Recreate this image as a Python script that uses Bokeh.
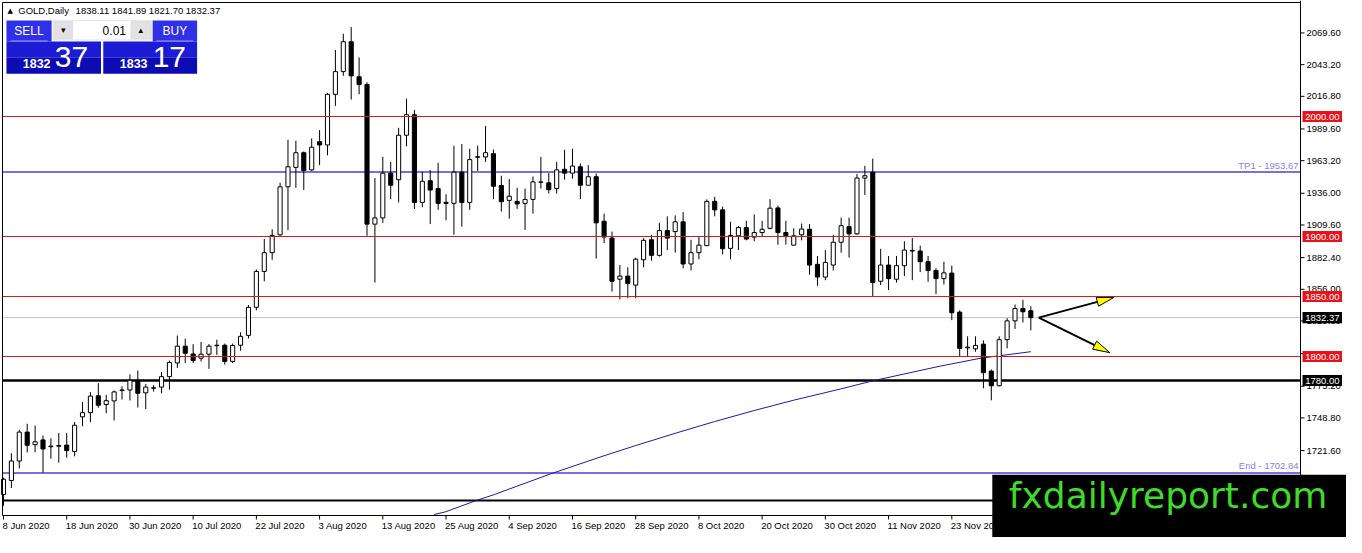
from bokeh.plotting import figure
from bokeh.models import Label, BoxAnnotation, ColumnDataSource, Range1d
from bokeh.embed import file_html
from bokeh.resources import INLINE
from bokeh.core.properties import value

# ---------------- data ----------------
opens = [1685.0, 1696.7, 1712.9, 1737.0, 1726.5, 1730.5, 1725.3, 1725.2, 1726.2, 1720.8,
         1749.7, 1753.2, 1767.3, 1760.0, 1763.0, 1771.6, 1772.1, 1780.2, 1769.7, 1773.5,
         1774.5, 1783.2, 1794.6, 1808.6, 1802.1, 1798.6, 1801.9, 1809.0, 1809.4, 1795.9,
         1809.4, 1817.6, 1841.0, 1870.9, 1886.5, 1901.4, 1941.4, 1957.6, 1969.8, 1955.5,
         1979.0, 1976.3, 2018.5, 2037.4, 2062.3, 2033.1, 2026.6, 1910.3, 1915.5, 1952.8,
         1947.3, 1984.4, 2001.5, 1928.4, 1946.5, 1940.0, 1928.5, 1927.6, 1953.6, 1928.4,
         1966.0, 1966.3, 1969.0, 1942.5, 1930.1, 1929.3, 1927.6, 1930.9, 1945.2, 1944.7,
         1940.0, 1956.0, 1952.8, 1958.1, 1942.7, 1949.8, 1912.7, 1898.7, 1864.4, 1867.0,
         1859.5, 1880.6, 1897.3, 1884.3, 1904.9, 1904.1, 1912.2, 1877.1, 1886.5, 1892.4,
         1929.3, 1922.2, 1890.1, 1900.6, 1907.4, 1899.5, 1903.3, 1906.8, 1923.8, 1903.3,
         1892.8, 1901.4, 1906.0, 1876.8, 1866.2, 1876.2, 1895.2, 1908.2, 1902.2, 1948.7,
         1953.6, 1862.7, 1876.2, 1864.4, 1875.7, 1887.9, 1887.9, 1879.0, 1871.7, 1864.9,
         1869.5, 1837.0, 1807.2, 1806.4, 1810.3, 1787.8, 1775.6, 1814.0, 1829.7, 1840.0,
         1838.11]
highs = [1699.0, 1719.4, 1738.9, 1744.0, 1742.4, 1734.2, 1731.8, 1736.2, 1736.2, 1745.4,
         1762.1, 1770.3, 1777.8, 1768.0, 1771.6, 1775.1, 1785.1, 1788.3, 1777.2, 1776.2,
         1787.0, 1796.7, 1817.5, 1814.9, 1810.3, 1812.1, 1810.3, 1814.0, 1810.8, 1810.8,
         1820.2, 1843.0, 1872.5, 1897.9, 1906.0, 1944.7, 1980.6, 1979.8, 1970.9, 1981.7,
         1988.7, 2019.5, 2055.5, 2069.0, 2074.5, 2049.3, 2028.5, 1948.7, 1966.3, 1962.2,
         1990.6, 2014.9, 2005.5, 1954.0, 1955.5, 1961.4, 1935.2, 1975.7, 1977.1, 1973.1,
         1975.7, 1992.0, 1972.5, 1950.6, 1947.9, 1940.6, 1940.0, 1950.0, 1966.3, 1952.8,
         1962.2, 1972.3, 1973.1, 1960.9, 1959.5, 1952.5, 1919.0, 1904.1, 1876.2, 1874.3,
         1882.4, 1898.7, 1901.4, 1911.4, 1916.8, 1917.6, 1920.3, 1897.3, 1900.0, 1930.9,
         1933.0, 1924.9, 1912.2, 1908.7, 1913.0, 1918.4, 1913.0, 1931.1, 1925.7, 1913.0,
         1906.8, 1910.8, 1910.3, 1883.8, 1888.7, 1901.4, 1915.7, 1915.7, 1952.0, 1958.9,
         1964.9, 1889.7, 1883.8, 1883.8, 1896.0, 1898.7, 1892.4, 1883.8, 1873.5, 1879.0,
         1875.7, 1838.4, 1816.8, 1816.8, 1813.5, 1789.2, 1816.8, 1831.9, 1843.3, 1847.3,
         1841.89]
lows = [1675.6, 1690.4, 1706.7, 1720.0, 1720.2, 1703.2, 1714.8, 1711.5, 1715.6, 1716.8,
        1741.9, 1745.3, 1757.3, 1752.7, 1746.7, 1764.2, 1763.4, 1757.5, 1756.2, 1770.8,
        1769.4, 1772.4, 1790.5, 1794.6, 1794.6, 1795.9, 1789.7, 1801.3, 1793.2, 1794.6,
        1804.8, 1815.0, 1838.5, 1862.7, 1880.6, 1900.6, 1905.4, 1940.6, 1938.7, 1954.7,
        1959.5, 1967.6, 2008.8, 2033.9, 2014.1, 2018.5, 1900.6, 1861.6, 1911.4, 1931.1,
        1928.4, 1975.2, 1923.0, 1924.4, 1910.3, 1922.2, 1913.5, 1901.4, 1908.2, 1922.2,
        1954.7, 1962.2, 1931.1, 1920.8, 1914.9, 1923.0, 1905.4, 1919.0, 1940.0, 1935.8,
        1935.8, 1947.3, 1948.1, 1931.1, 1942.7, 1881.6, 1894.6, 1854.1, 1847.6, 1848.6,
        1848.6, 1874.3, 1879.8, 1883.3, 1888.7, 1886.5, 1873.5, 1871.7, 1881.0, 1892.0,
        1916.8, 1885.1, 1881.0, 1888.7, 1896.8, 1896.0, 1899.5, 1906.0, 1893.2, 1893.2,
        1892.4, 1896.8, 1868.1, 1858.9, 1863.6, 1871.7, 1886.5, 1882.4, 1901.4, 1934.6,
        1850.0, 1859.5, 1855.4, 1861.6, 1867.0, 1863.6, 1870.3, 1862.2, 1851.9, 1860.0,
        1830.3, 1800.0, 1800.5, 1804.0, 1773.5, 1763.5, 1775.1, 1806.8, 1823.0, 1828.3,
        1821.70]
closes = [1697.7, 1712.9, 1737.0, 1726.0, 1728.9, 1722.9, 1724.8, 1725.8, 1721.6, 1742.7,
          1753.2, 1767.0, 1759.4, 1763.2, 1770.5, 1772.1, 1780.2, 1769.4, 1774.5, 1774.0,
          1783.2, 1795.1, 1808.6, 1802.7, 1796.7, 1801.9, 1808.6, 1809.4, 1795.9, 1809.2,
          1816.8, 1841.0, 1870.9, 1886.5, 1900.9, 1941.4, 1958.1, 1969.8, 1954.9, 1974.4,
          1976.3, 2018.5, 2037.4, 2062.3, 2033.9, 2026.6, 1910.3, 1915.5, 1952.8, 1942.7,
          1984.4, 2001.5, 1928.4, 1946.0, 1938.7, 1927.6, 1927.6, 1953.6, 1928.4, 1964.1,
          1966.5, 1969.8, 1941.9, 1929.0, 1933.6, 1927.1, 1930.9, 1945.5, 1945.5, 1939.0,
          1955.5, 1952.8, 1958.7, 1942.7, 1949.8, 1911.4, 1899.5, 1862.7, 1867.0, 1860.8,
          1881.1, 1896.8, 1884.3, 1904.9, 1898.7, 1912.2, 1877.1, 1886.5, 1892.8, 1929.3,
          1922.2, 1889.8, 1900.9, 1907.4, 1897.9, 1903.3, 1906.0, 1923.6, 1903.3, 1900.6,
          1900.6, 1906.2, 1876.2, 1866.2, 1878.4, 1895.2, 1909.0, 1902.2, 1948.7, 1950.6,
          1861.6, 1876.2, 1864.9, 1875.7, 1888.7, 1888.4, 1879.0, 1871.7, 1864.9, 1869.7,
          1836.5, 1806.8, 1807.8, 1809.2, 1786.5, 1775.6, 1814.0, 1829.7, 1840.0, 1837.3,
          1832.37]

date_tick_index = [0, 8, 16, 24, 32, 40, 48, 56, 64, 72, 80, 88, 96, 104, 112, 120]
date_tick_labels = ["8 Jun 2020", "18 Jun 2020", "30 Jun 2020", "10 Jul 2020", "22 Jul 2020",
                    "3 Aug 2020", "13 Aug 2020", "25 Aug 2020", "4 Sep 2020", "16 Sep 2020",
                    "28 Sep 2020", "8 Oct 2020", "20 Oct 2020", "30 Oct 2020", "11 Nov 2020",
                    "23 Nov 2020"]
price_ticks = [2069.6, 2043.2, 2016.8, 1989.6, 1963.2, 1936.0, 1909.6, 1882.4, 1856.0,
               1829.6, 1802.4, 1775.2, 1748.8, 1721.6, 1694.4]

ma_index = [54.5, 55.9, 60, 62.1, 65, 69.2, 75.5, 80, 85, 90, 95, 100, 105.9, 110,
            118.4, 123.75, 130]
ma_values = [1668.3, 1670.5, 1680.4, 1684.9, 1692.0, 1702.1, 1716.2, 1725.8, 1736.0,
             1745.8, 1755.0, 1763.6, 1772.9, 1779.7, 1791.8, 1798.7, 1804.0]

red_levels = [2000.0, 1900.0, 1850.0, 1800.0]
support_level = 1780.0
lower_black_level = 1680.0
tp_level = 1953.67
end_level = 1702.84
current_price = 1832.37
ohlc_text = "1838.11 1841.89 1821.70 1832.37"

arrow_start = (131.0, 1832.4)
arrow_tips = [(140.5, 1849.2), (140.0, 1803.2)]

# ---------------- layout ----------------
W, H = 1346, 537          # canvas
VL, VT = 2, 2             # chart area offset inside the canvas
FW, FH = 1298, 513        # chart area size
xs, xe = -0.125, 164.125  # bar-index span of the chart area
ppy = 1.2                 # pixels per price unit (keeps round levels crisp)
ye = 2000.0 + (116.0 - VT) / ppy
ys = ye - FH / ppy
ppx = FW / (xe - xs)
kx = FW / 1314.0
ky = FH / 530.0

RED = "#d41c1c"
TAGRED = "#e8121a"
BLUE = "#7a6fe0"
FONT = "Liberation Sans"

p = figure(width=W, height=H,
           x_range=Range1d(xs - VL / ppx, xe + (W - VL - FW) / ppx),
           y_range=Range1d(ys - (H - VT - FH) / ppy, ye + VT / ppy),
           x_axis_location=None, y_axis_location=None,
           output_backend="svg", toolbar_location=None,
           min_border_left=0, min_border_right=0, min_border_top=0, min_border_bottom=0)
p.background_fill_color = "white"
p.border_fill_color = "white"
p.outline_line_color = None
p.grid.visible = False

def sx(X):
    return VL + (X - 2) * kx

def sy(Y):
    return H - (VT + (Y - 2) * ky)

# ---------------- level lines ----------------
def hline(lvl, color, width):
    p.segment(x0=[xs], x1=[xe], y0=[lvl], y1=[lvl], line_color=color, line_width=width)

hline(current_price, "#c0c0c0", 1)
hline(tp_level, BLUE, 2)
hline(end_level, BLUE, 2)
hline(support_level, "black", 2.5)
hline(lower_black_level, "black", 2)

# ---------------- moving average ----------------
p.line(ma_index, ma_values, line_color="#1a1aa6", line_width=1)

# ---------------- candles ----------------
idx = list(range(len(opens)))
src = ColumnDataSource(dict(
    x=idx, o=opens, h=highs, l=lows, c=closes,
    top=[max(o, c) for o, c in zip(opens, closes)],
    bot=[min(o, c) for o, c in zip(opens, closes)],
    fill=["white" if c >= o else "black" for o, c in zip(opens, closes)],
))
p.segment(x0="x", y0="l", x1="x", y1="h", source=src, line_color="black", line_width=1)
p.vbar(x="x", width=0.52, top="top", bottom="bot", source=src, fill_color="fill",
       line_color="black", line_width=1)

# red levels drawn over the candles, as in the terminal
for lvl in red_levels:
    hline(lvl, RED, 1)

# ---------------- arrows ----------------
for tx, ty in arrow_tips:
    dx = (tx - arrow_start[0]) * ppx
    dy = (ty - arrow_start[1]) * ppy
    ln = (dx * dx + dy * dy) ** 0.5
    ux, uy = dx / ln, dy / ln
    nx, ny = -uy, ux
    L, Wh = 17.0, 4.5
    bx, by = tx - L * ux / ppx, ty - L * uy / ppy
    p.line([arrow_start[0], bx], [arrow_start[1], by], line_color="black", line_width=2)
    hx = [tx, bx + Wh * nx / ppx, bx - Wh * nx / ppx]
    hy = [ty, by + Wh * ny / ppy, by - Wh * ny / ppy]
    p.patch(hx, hy, fill_color="#ffff00", line_color="black", line_width=1)

# ---------------- chart frame and axes ----------------
p.segment(x0=[xs, xs, xs, xe], x1=[xe, xs, xe, xe],
          y0=[ye, ye, ys, ye + VT / ppy], y1=[ye, ys, ys, ys - 1.5 / ppy],
          line_color="black", line_width=1)
# right price axis
n = len(price_ticks)
p.segment(x0=[xe] * n, x1=[xe + 4 / ppx] * n, y0=price_ticks, y1=price_ticks,
          line_color="black", line_width=1)
p.text(x=[xe + 6 / ppx] * n, y=price_ticks, text=[f"{t:.2f}" for t in price_ticks],
       text_align="left", text_baseline="middle", text_font=value(FONT),
       text_font_size="9.5px", text_color="black")
# bottom date axis
m = len(date_tick_index)
p.segment(x0=date_tick_index, x1=date_tick_index, y0=[ys] * m, y1=[ys - 4 / ppy] * m,
          line_color="black", line_width=1)
p.text(x=[i - 1 / ppx for i in date_tick_index], y=[ys - 9.5 / ppy] * m,
       text=date_tick_labels, text_align="left", text_baseline="middle",
       text_font=value(FONT), text_font_size="9.5px", text_color="black")

# price tags on the axis
def price_tag(lvl, color):
    half = 5.6 / ppy
    p.quad(left=[xe + 2 / ppx], right=[xe + 41.5 / ppx], top=[lvl + half],
           bottom=[lvl - half], fill_color=color, line_color=None)
    p.text(x=[xe + 21.8 / ppx], y=[lvl], text=[f"{lvl:.2f}"], text_align="center",
           text_baseline="middle", text_font=value(FONT), text_font_size="9.5px",
           text_color="white")

for lvl in red_levels:
    price_tag(lvl, TAGRED)
price_tag(current_price, "black")
price_tag(support_level, "black")

# ---------------- level texts ----------------
p.add_layout(Label(x=xe - 2 / ppx, y=tp_level, text="TP1 - " + f"{tp_level:.2f}",
                   text_align="right", text_baseline="bottom", y_offset=1,
                   text_font=FONT, text_font_size="9.5px", text_color="#8a80e6"))
p.add_layout(Label(x=xe - 2 / ppx, y=end_level, text="End - " + f"{end_level:.2f}",
                   text_align="right", text_baseline="bottom", y_offset=2,
                   text_font=FONT, text_font_size="9.5px", text_color="#8a80e6"))

# ---------------- screen-space overlays ----------------
def sbox(Xa, Ya, Xb, Yb, fill, line=None):
    p.add_layout(BoxAnnotation(left=sx(Xa), right=sx(Xb), top=sy(Ya), bottom=sy(Yb),
                               left_units="screen", right_units="screen",
                               top_units="screen", bottom_units="screen",
                               fill_color=fill, fill_alpha=1, line_color=line,
                               line_width=1, level="overlay"))

def slabel(X, Y, text, size, color, align="left", font=FONT, style="normal"):
    p.add_layout(Label(x=sx(X), y=sy(Y), x_units="screen", y_units="screen", text=text,
                       text_align=align, text_baseline="middle", text_font=font,
                       text_font_size=size, text_color=color, text_font_style=style,
                       level="overlay"))

# header
slabel(7, 10.5, "\u25b2", "7px", "black", font="DejaVu Sans")
slabel(18, 10.5, "GOLD,Daily", "9.5px", "black")
slabel(76, 10.5, ohlc_text, "9.5px", "black")

# trade panel
sbox(6, 20.7, 51.7, 42.3, "#3030e8")
sbox(154, 20.7, 199, 42.3, "#3030e8")
sbox(6, 42.3, 101.7, 59, "#1c1cd4")
sbox(6, 59, 101.7, 75.7, "#0c0cb2")
sbox(104, 42.3, 199, 59, "#1c1cd4")
sbox(104, 59, 199, 75.7, "#0c0cb2")
sbox(10, 41.3, 47.7, 42.3, "#9a9af4")
sbox(158, 41.3, 195, 42.3, "#9a9af4")
sbox(53, 20.7, 152.7, 40.7, "white", "#a8a8a8")
sbox(54, 21.7, 73, 39.7, "#e2e2e2", "#c4c4c4")
sbox(132, 21.7, 152, 39.7, "#e2e2e2", "#c4c4c4")
slabel(28.8, 31.5, "SELL", "12px", "white", align="center")
slabel(176.5, 31.5, "BUY", "12px", "white", align="center")
slabel(63.5, 30.5, "\u25be", "9px", "black", align="center", font="DejaVu Sans")
slabel(142, 30.5, "\u25b4", "9px", "black", align="center", font="DejaVu Sans")
slabel(127, 31, "0.01", "12px", "black", align="right")
slabel(22.5, 64.8, "1832", "12.5px", "white", style="bold")
slabel(55, 58.5, "37", "30px", "white")
slabel(120.7, 64.8, "1833", "12.5px", "white", style="bold")
slabel(154, 58.5, "17", "30px", "white")

# logo
p.add_layout(BoxAnnotation(left=sx(1004), right=sx(1400), top=sy(490), bottom=sy(600),
                           left_units="screen", right_units="screen",
                           top_units="screen", bottom_units="screen",
                           fill_color="black", fill_alpha=1, line_color=None, level="overlay"))
slabel(1020.7, 511, "fxdailyreport.com", "36px", "#3cdc28", font="DejaVu Sans")

open("out.html", "w").write(file_html(p, INLINE))
